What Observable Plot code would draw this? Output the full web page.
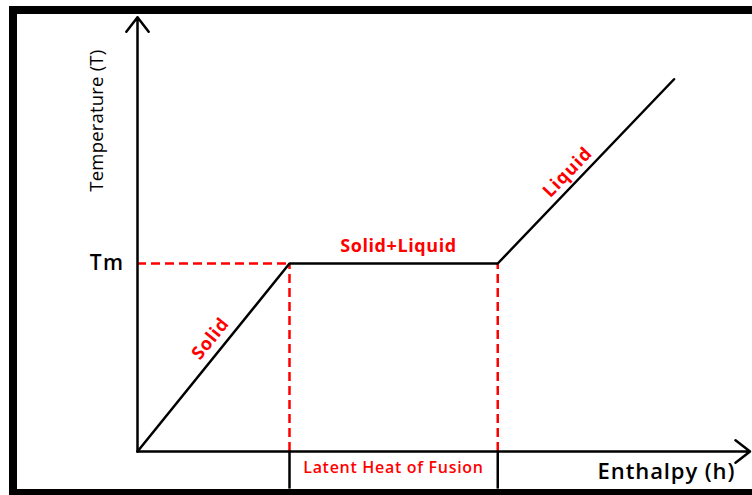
<!DOCTYPE html>
<html><head><meta charset="utf-8">
<script src="https://cdn.jsdelivr.net/npm/d3@7"></script>
<script src="https://cdn.jsdelivr.net/npm/@observablehq/plot@0.6"></script>
<style>
html,body{margin:0;padding:0;background:#fff;overflow:hidden;width:752px;height:495px;}
#wrap{position:relative;width:752px;height:495px;}
#frame{position:absolute;left:9px;top:6px;width:800px;border-left:8px solid #000;border-top:8px solid #000;border-bottom:8px solid #000;box-sizing:border-box;height:491px;}
#chart{position:absolute;left:0;top:0;}
</style></head>
<body><div id="wrap"><div id="frame"></div><div id="chart"></div></div>
<script>
// Enthalpy (h) / Temperature (T) in schematic units (melting point Tm = 1)
const curveH = [0, 1, 2.37, 3.53];
const curveT = [0, 1, 1, 1.98];
const meltStartH = 1;
const meltEndH = 2.37;
const Tm = 1;
const axisEndH = 4.03;
const axisEndT = 2.31;
const labels = [
  {text: "Temperature (T)", h: -0.265, t: 1.76, color: "#000", rotate: -90, size: 18.5, weight: 400, spacing: 0.2},
  {text: "Tm", h: -0.2, t: 1, color: "#000", rotate: 0, size: 21, weight: 600, spacing: 1.5},
  {text: "Solid+Liquid", h: 1.717, t: 1.09, color: "#ff0000", rotate: 0, size: 18, weight: 700, spacing: 0.6},
  {text: "Solid", h: 0.48, t: 0.60, color: "#ff0000", rotate: -51, size: 18, weight: 700, spacing: 0.8},
  {text: "Liquid", h: 2.83, t: 1.485, color: "#ff0000", rotate: -46, size: 18, weight: 700, spacing: 1},
  {text: "Latent Heat of Fusion", h: 1.684, t: -0.088, color: "#ff0000", rotate: 0, size: 16, weight: 600, spacing: 0.7},
  {text: "Enthalpy (h)", h: 3.48, t: -0.108, color: "#000", rotate: 0, size: 22, weight: 600, spacing: 0.9}
];
const bottomT = -0.2;

const curve = curveH.map((h, i) => ({h, t: curveT[i]}));
const font = "'Open Sans', Lato, sans-serif";

const textMarks = labels.map(d => Plot.text([d], {
  x: "h", y: "t", text: "text", fill: d.color, rotate: d.rotate,
  fontSize: d.size, fontWeight: d.weight, fontFamily: font, textAnchor: "middle"
}));

const chart = Plot.plot({
  width: 752, height: 495,
  marginTop: 0, marginRight: 0, marginBottom: 0, marginLeft: 0,
  x: {domain: [0, 4], range: [137, 745], axis: null},
  y: {domain: [0, 2], range: [451, 75], axis: null},
  style: {background: "transparent", overflow: "visible"},
  marks: [
    Plot.ruleX([meltStartH, meltEndH], {y1: 0, y2: bottomT, stroke: "#000", strokeWidth: 2.5}),
    Plot.ruleY([Tm], {x1: 0, x2: meltStartH, stroke: "#ff0000", strokeWidth: 2.5, strokeDasharray: "9,5"}),
    Plot.ruleX([meltStartH, meltEndH], {y1: 0, y2: Tm, stroke: "#ff0000", strokeWidth: 2.5, strokeDasharray: "9,5"}),
    Plot.arrow([{x1: 0, y1: 0, x2: axisEndH, y2: 0}, {x1: 0, y1: 0, x2: 0, y2: axisEndT}],
      {x1: "x1", y1: "y1", x2: "x2", y2: "y2", stroke: "#000", strokeWidth: 2.5, headLength: 11, headAngle: 75}),
    Plot.line(curve, {x: "h", y: "t", stroke: "#000", strokeWidth: 2.5, strokeLinejoin: "miter"}),
    ...textMarks
  ]
});
// apply per-label letter spacing (text marks are rendered in label order)
d3.select(chart).selectAll("g[aria-label='text'] text").each(function(_, i) {
  if (labels[i]) this.style.letterSpacing = labels[i].spacing + "px";
});
document.getElementById("chart").appendChild(chart);
</script></body></html>
